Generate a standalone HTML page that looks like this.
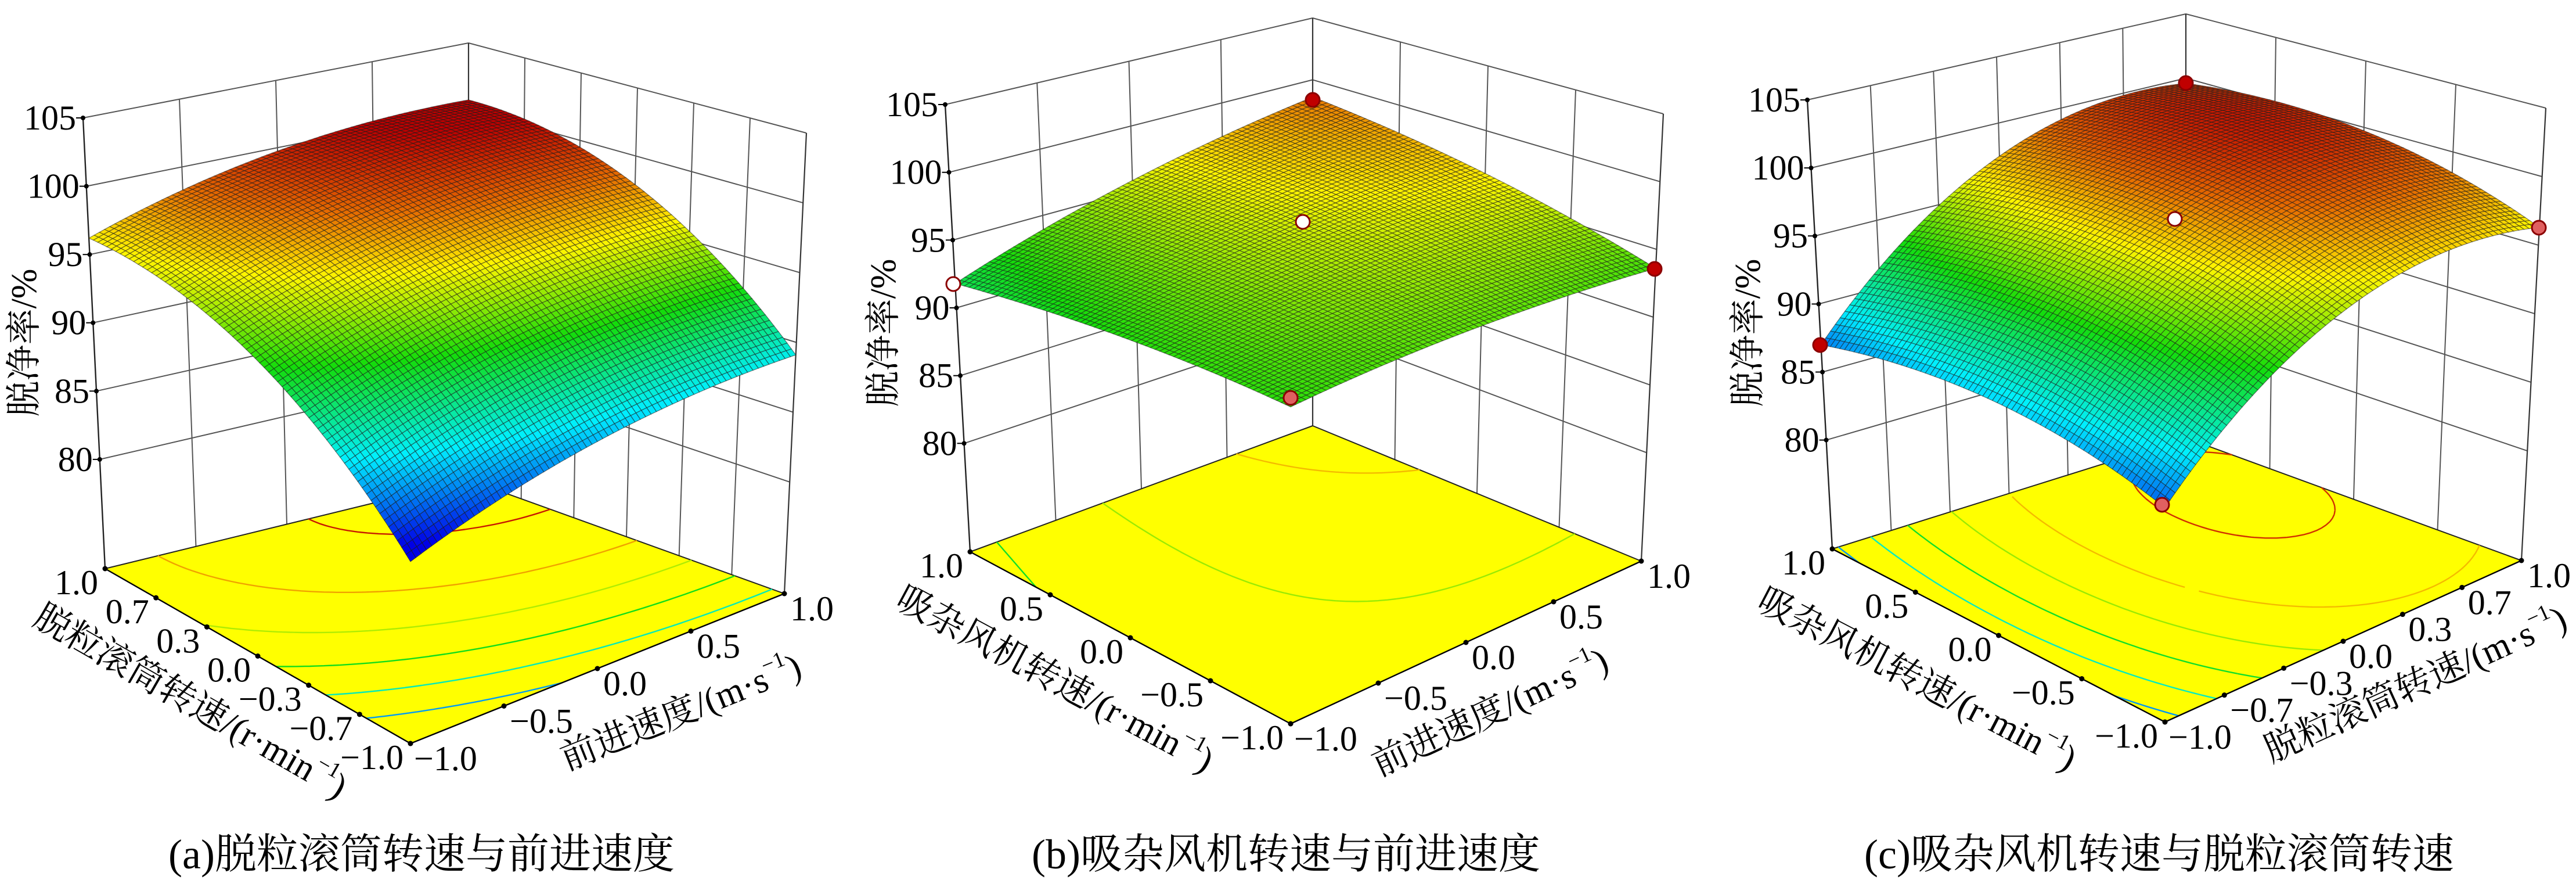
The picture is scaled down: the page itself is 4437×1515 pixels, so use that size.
<!DOCTYPE html>
<html><head><meta charset="utf-8">
<style>
html,body{margin:0;padding:0;background:#fff;}
svg{display:block;}
text{font-family:"Liberation Serif","Noto Serif CJK SC","Noto Sans CJK SC",serif;fill:#000;}
</style></head>
<body>
<svg id="s" width="4437" height="1515" viewBox="0 0 4437 1515" xmlns="http://www.w3.org/2000/svg">
<rect width="4437" height="1515" fill="#fff"/>
<g id="g"></g>
<text x="726" y="1495" font-size="72" text-anchor="middle">(a)脱粒滚筒转速与前进速度</text>
<text x="2215" y="1495" font-size="72" text-anchor="middle">(b)吸杂风机转速与前进速度</text>
<text x="3719" y="1495" font-size="72" text-anchor="middle">(c)吸杂风机转速与脱粒滚筒转速</text>
</svg>
<script>
var ZF=72,ZT=105;
var panels=[
{F:[707,1280],Ft:[707,440],L:[181,979],Lt:[143,203],R:[1351,1022],Rt:[1389,229],B:[807,826],Bt:[807,74],
 z:[84.3,96.2,89.1,100.7],ka:3.0,kb:1.3,cmin:85,cmax:100.5,
 la:["−1.0","−0.7","−0.3","0.0","0.3","0.7","1.0"],lb:["−1.0","−0.5","0.0","0.5","1.0"],
 levels:[87.5,90,92.5,95,97.5,100],
 zl:[48,590],ll:{t:"脱粒滚筒转速/(r·min",c:[325,1213]},rl:{t:"前进速度/(m·s",c:[1175,1232]},dots:[]},
{F:[2223,1246],Ft:[2223,401],L:[1671,950],Lt:[1628,180],R:[2827,966],Rt:[2865,196],B:[2261,733],Bt:[2261,31],
 z:[93.3,91.8,93.6,98.6],ka:0.6,kb:0.6,cmin:85,cmax:101,
 la:["−1.0","−0.5","0.0","0.5","1.0"],lb:["−1.0","−0.5","0.0","0.5","1.0"],
 levels:[92.5,95,97.5],
 zl:[1528,573],ll:{t:"吸杂风机转速/(r·min",c:[1814,1175]},rl:{t:"前进速度/(m·s",c:[2569,1232]},
 dots:[[1642,489,"#fff"],[2261,172,"#c00000"],[2244,382,"#fff"],[2850,463,"#c00000"],[2223,685,"#e06060"]]},
{F:[3729,1243],Ft:[3729,403],L:[3156,945],Lt:[3113,172],R:[4343,965],Rt:[4385,186],B:[3765,754],Bt:[3765,24],
 z:[86.5,87,96.3,99.6],ka:1.8,kb:4.2,cmin:85,cmax:101,
 la:["−1.0","−0.5","0.0","0.5","1.0"],lb:["−1.0","−0.7","−0.3","0.0","0.3","0.7","1.0"],
 levels:[87.5,90,92.5,95,97.5,100],
 zl:[3017,573],ll:{t:"吸杂风机转速/(r·min",c:[3299,1175]},rl:{t:"脱粒滚筒转速/(m·s",c:[4163,1184]},
 dots:[[3765,143,"#c00000"],[3135,594,"#c00000"],[3746,377,"#fff"],[4373,392,"#e06060"],[3724,869,"#e06060"]]}
];
function bil(P,Q,R,S,a,b){return [P[0]*(1-a)*(1-b)+Q[0]*a*(1-b)+R[0]*(1-a)*b+S[0]*a*b,P[1]*(1-a)*(1-b)+Q[1]*a*(1-b)+R[1]*(1-a)*b+S[1]*a*b];}
function cmap(t){t=Math.max(0,Math.min(1,t));var st=[[0,0,0,230],[0.25,0,240,255],[0.5,20,220,10],[0.72,255,245,0],[0.86,230,110,0],[1,190,0,0]];
 for(var i=0;i<st.length-1;i++){if(t<=st[i+1][0]){var u=(t-st[i][0])/(st[i+1][0]-st[i][0]);return "rgb("+[1,2,3].map(function(k){return Math.round(st[i][k]+(st[i+1][k]-st[i][k])*u)}).join(",")+")";}}return "rgb(190,0,0)";}
var out=[];
panels.forEach(function(p){
 function pr(a,b,z){var f=bil(p.F,p.L,p.R,p.B,a,b),t=bil(p.Ft,p.Lt,p.Rt,p.Bt,a,b),s=(z-ZF)/(ZT-ZF);return [f[0]+(t[0]-f[0])*s,f[1]+(t[1]-f[1])*s];}
 function zf(a,b){var z=p.z;return z[0]*(1-a)*(1-b)+z[1]*a*(1-b)+z[2]*(1-a)*b+z[3]*a*b+p.ka*4*a*(1-a)+p.kb*4*b*(1-b);}
 function ln(A,B,c,w){return '<line x1="'+A[0].toFixed(1)+'" y1="'+A[1].toFixed(1)+'" x2="'+B[0].toFixed(1)+'" y2="'+B[1].toFixed(1)+'" stroke="'+c+'" stroke-width="'+w+'"/>';}
 var na=p.la.length-1,nb=p.lb.length-1,z,k;
 for(z=80;z<=105;z+=5){out.push(ln(pr(1,0,z),pr(1,1,z),"#555",2));out.push(ln(pr(0,1,z),pr(1,1,z),"#555",2));}
 for(k=1;k<nb;k++)out.push(ln(pr(1,k/nb,ZF),pr(1,k/nb,105),"#555",2));
 for(k=1;k<na;k++)out.push(ln(pr(k/na,1,ZF),pr(k/na,1,105),"#555",2));
 out.push(ln(pr(1,1,ZF),pr(1,1,105),"#333",2.2));
 out.push(ln(pr(1,0,ZF),pr(1,0,105),"#222",2.4));
 out.push(ln(pr(0,1,ZF),pr(0,1,105),"#333",2.2));
 out.push('<polygon points="'+[p.F,p.L,p.B,p.R].map(function(q){return q.join(",")}).join(" ")+'" fill="#ffff00"/>');
 out.push(ln(p.L,p.B,"#222",2));out.push(ln(p.B,p.R,"#222",2));
 var N=60;
 p.levels.forEach(function(L){var d="";
  for(var i=0;i<N;i++)for(var j=0;j<N;j++){
   var a0=i/N,a1=(i+1)/N,b0=j/N,b1=(j+1)/N;
   var c=[[a0,b0,zf(a0,b0)],[a1,b0,zf(a1,b0)],[a1,b1,zf(a1,b1)],[a0,b1,zf(a0,b1)]],pts=[];
   for(var e=0;e<4;e++){var A=c[e],B=c[(e+1)%4];if((A[2]-L)*(B[2]-L)<0){var t=(L-A[2])/(B[2]-A[2]);pts.push(pr(A[0]+(B[0]-A[0])*t,A[1]+(B[1]-A[1])*t,ZF));}}
   if(pts.length>=2)d+="M"+pts[0][0].toFixed(1)+" "+pts[0][1].toFixed(1)+"L"+pts[1][0].toFixed(1)+" "+pts[1][1].toFixed(1);
  }
  out.push('<path d="'+d+'" stroke="'+cmap((L-p.cmin)/(p.cmax-p.cmin))+'" stroke-width="2.4" fill="none"/>');});
 out.push(ln(p.F,p.L,"#000",2.4));out.push(ln(p.F,p.R,"#000",2.4));
 for(k=0;k<=na;k++){var q=bil(p.F,p.L,p.R,p.B,k/na,0);out.push('<circle cx="'+q[0]+'" cy="'+q[1]+'" r="4.5" fill="#000"/>');
  out.push('<text x="'+(q[0]-12).toFixed(1)+'" y="'+(q[1]+44).toFixed(1)+'" font-size="60" text-anchor="end">'+p.la[k]+'</text>');}
 for(k=0;k<=nb;k++){var q=bil(p.F,p.L,p.R,p.B,0,k/nb);out.push('<circle cx="'+q[0]+'" cy="'+q[1]+'" r="4.5" fill="#000"/>');
  out.push('<text x="'+(q[0]+(k==0?6:10)).toFixed(1)+'" y="'+(q[1]+46).toFixed(1)+'" font-size="60">'+p.lb[k]+'</text>');}
 for(z=80;z<=105;z+=5){var q=pr(1,0,z);out.push(ln(q,[q[0]-12,q[1]],"#000",2));out.push('<circle cx="'+q[0]+'" cy="'+q[1]+'" r="4" fill="#000"/>');
  out.push('<text x="'+(q[0]-12).toFixed(1)+'" y="'+(q[1]+20).toFixed(1)+'" font-size="60" text-anchor="end">'+z+'</text>');}
 var M=72,quads=[];
 for(var i=0;i<M;i++)for(var j=0;j<M;j++)quads.push([i,j]);
 quads.sort(function(A,B){return (B[0]+B[1])-(A[0]+A[1]);});
 quads.forEach(function(Q){var a0=Q[0]/M,a1=(Q[0]+1)/M,b0=Q[1]/M,b1=(Q[1]+1)/M;
  var c=[[a0,b0],[a1,b0],[a1,b1],[a0,b1]].map(function(v){return pr(v[0],v[1],zf(v[0],v[1]));});
  var zm=zf((a0+a1)/2,(b0+b1)/2);
  out.push('<path d="M'+c.map(function(v){return v[0].toFixed(1)+" "+v[1].toFixed(1)}).join("L")+'Z" fill="'+cmap((zm-p.cmin)/(p.cmax-p.cmin))+'" stroke="#1a1a1a" stroke-width="1.2" stroke-opacity="0.55"/>');});
 p.dots.forEach(function(d){out.push('<circle cx="'+d[0]+'" cy="'+d[1]+'" r="12" fill="'+d[2]+'" stroke="#8b0000" stroke-width="3"/>');});
 out.push('<text transform="translate('+p.zl[0]+','+p.zl[1]+') rotate(-90)" font-size="62" text-anchor="middle" dominant-baseline="middle">脱净率/%</text>');
 var angL=Math.atan2(p.F[1]-p.L[1],p.F[0]-p.L[0])*180/Math.PI, angR=Math.atan2(p.R[1]-p.F[1],p.R[0]-p.F[0])*180/Math.PI;
 out.push('<text transform="translate('+p.ll.c[0]+','+p.ll.c[1]+') rotate('+angL.toFixed(1)+')" font-size="62" text-anchor="middle" dominant-baseline="middle">'+p.ll.t+'<tspan font-size="38" dy="-24">−1</tspan><tspan dy="24">)</tspan></text>');
 out.push('<text transform="translate('+p.rl.c[0]+','+p.rl.c[1]+') rotate('+angR.toFixed(1)+')" font-size="62" text-anchor="middle" dominant-baseline="middle">'+p.rl.t+'<tspan font-size="38" dy="-24">−1</tspan><tspan dy="24">)</tspan></text>');
});
document.getElementById("g").innerHTML=out.join("");
</script>
</body></html>
